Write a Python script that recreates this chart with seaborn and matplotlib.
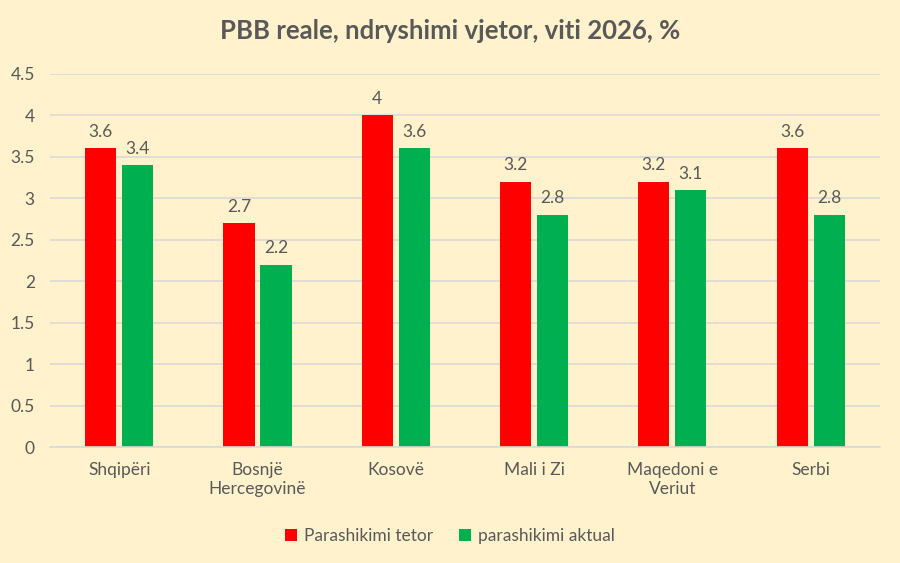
import matplotlib
matplotlib.use("Agg")
import matplotlib.pyplot as plt
import seaborn as sns
import pandas as pd
from matplotlib.ticker import MultipleLocator, FormatStrFormatter

categories = ["Shqipëri", "Bosnjë\nHercegovinë", "Kosovë", "Mali i Zi", "Maqedoni e\nVeriut", "Serbi"]
series_names = ["Parashikimi tetor", "parashikimi aktual"]
tetor = [3.6, 2.7, 4.0, 3.2, 3.2, 3.6]
aktual = [3.4, 2.2, 3.6, 2.8, 3.1, 2.8]
colors = ["#FF0000", "#00B050"]

df = pd.DataFrame({
    "cat": categories * 2,
    "series": [series_names[0]] * len(categories) + [series_names[1]] * len(categories),
    "value": tetor + aktual,
})

sns.set_theme(style="white")
plt.rcParams["font.family"] = ["Lato", "DejaVu Sans"]
txt = "#595959"
bg = "#FFF2CC"

fig = plt.figure(figsize=(9, 5.63), dpi=100, facecolor=bg)
ax = fig.add_axes([0.0556, 0.206, 0.922, 0.663])
ax.set_facecolor(bg)

sns.barplot(data=df, x="cat", y="value", hue="series", palette=colors,
            width=0.536, gap=0.16, ax=ax, saturation=1, legend=True,
            linewidth=0, edgecolor="none")

for c in ax.containers:
    ax.bar_label(c, fmt="%g", padding=6, color=txt, fontsize=12.5)

ax.set_ylim(0, 4.5)
ax.yaxis.set_major_locator(MultipleLocator(0.5))
ax.yaxis.set_major_formatter(FormatStrFormatter("%g"))
ax.set_xlim(-0.5, 5.5)
ax.grid(axis="y", color="#D9D9D9", linewidth=1.2)
ax.set_axisbelow(True)
for s in ["top", "right", "left"]:
    ax.spines[s].set_visible(False)
ax.spines["bottom"].set_color("#D9D9D9")
ax.spines["bottom"].set_linewidth(1.2)
ax.tick_params(axis="both", length=0, colors=txt, labelsize=12.5)
ax.tick_params(axis="x", pad=11)
ax.tick_params(axis="y", pad=11)
ax.set_xlabel("")
ax.set_ylabel("")

fig.suptitle("PBB reale, ndryshimi vjetor, viti 2026, %", x=0.5, y=0.967,
             fontsize=18.5, fontweight="bold", color=txt)

handles, labels = ax.get_legend_handles_labels()
ax.get_legend().remove()
fig.legend(handles, labels, loc="center", bbox_to_anchor=(0.5, 0.048), ncol=2,
           frameon=False, fontsize=12.5, labelcolor=txt, handlelength=0.7,
           handleheight=0.7, handletextpad=0.4, columnspacing=1.5)

fig.savefig("out.png", dpi=100, facecolor=bg)
